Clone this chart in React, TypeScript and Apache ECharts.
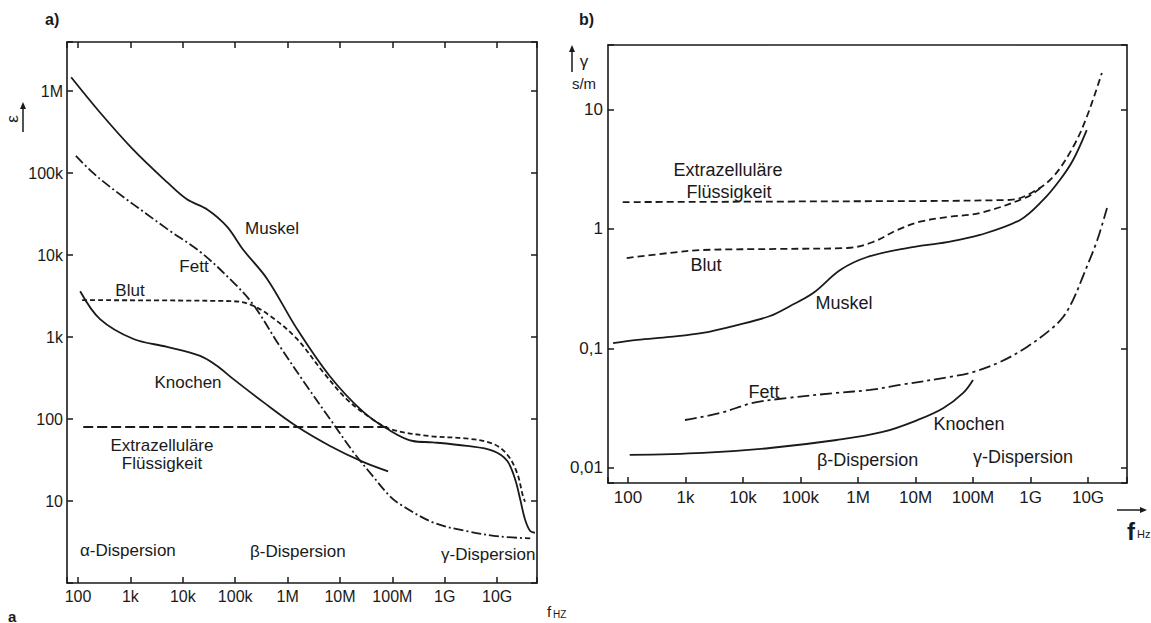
import React, { useEffect, useRef } from "react";
import * as echarts from "echarts";

// ---------- Panel a) permittivity (ε) vs frequency ----------
const aMuskelF = [74, 263, 1120, 5010, 12000, 28800, 69200, 141000, 407000, 1.51e6, 6.46e6, 2.75e7, 7.94e7, 2.45e8, 5.89e8, 2.63e9, 8.32e9, 1.55e10, 2.19e10, 2.75e10, 3.39e10, 4.27e10, 5.25e10];
const aMuskelV = [1.48e6, 5.5e5, 1.95e5, 7.76e4, 4.79e4, 3.63e4, 2.24e4, 1.17e4, 5130, 1260, 331, 123, 76, 54, 52, 47, 41, 31, 18.6, 10.5, 6.0, 4.3, 4.1];

const aBlutF = [120, 7.9e4, 1.9e5, 4.6e5, 1.5e6, 4.8e6, 1.35e7, 3.7e7, 8.9e7, 5.2e8, 2.6e9, 8.3e9, 1.55e10, 2.4e10, 3.1e10, 3.4e10];
const aBlutV = [2820, 2750, 2510, 1820, 955, 372, 174, 105, 76, 62, 58, 50, 37, 22, 11.5, 9.8];

const aFettF = [91, 263, 5010, 21400, 91200, 2.19e5, 7.08e5, 2.34e6, 6.46e6, 1.78e7, 4.27e7, 8.9e7, 1.41e8, 5.9e8, 2.6e9, 1.12e10, 4.27e10];
const aFettV = [1.62e5, 8.5e4, 2.09e4, 1.1e4, 4680, 2510, 776, 251, 100, 40, 20, 11.5, 9.1, 5.5, 4.3, 3.7, 3.5];

const aKnochenF = [110, 263, 1120, 5010, 21400, 44700, 91200, 3.39e5, 1.51e6, 6.46e6, 2.75e7, 8.3e7];
const aKnochenV = [3630, 1660, 955, 759, 589, 447, 309, 162, 81, 47, 30, 23];

const aExtraF = [126, 1e5, 8e7];
const aExtraV = [80, 80, 80];

// ---------- Panel b) conductivity (γ, S/m) vs frequency ----------
const bMuskelF = [55, 145, 537, 2000, 7940, 29500, 66100, 1.66e5, 4.9e5, 1.45e6, 7.1e6, 3.55e7, 1.32e8, 6.6e8, 1.66e9, 3.24e9, 5.5e9, 9.5e9];
const bMuskelV = [0.111, 0.118, 0.125, 0.135, 0.157, 0.187, 0.227, 0.291, 0.454, 0.583, 0.693, 0.778, 0.891, 1.19, 1.75, 2.57, 3.78, 6.73];

const bBlutF = [95, 537, 2000, 43600, 6.46e5, 1.82e6, 4.8e6, 1.2e7, 3.55e7, 1.32e8, 8.7e8, 1.48e9];
const bBlutV = [0.571, 0.631, 0.667, 0.681, 0.693, 0.778, 0.98, 1.15, 1.26, 1.36, 1.85, 2.2];

const bExtraF = [81, 1e5, 4.4e8, 1.1e9, 2.45e9, 5.5e9, 9.5e9, 1.74e10];
const bExtraV = [1.68, 1.7, 1.75, 2.04, 2.72, 4.85, 8.65, 20.2];

const bFettF = [977, 3980, 14800, 58900, 4.27e5, 1.62e6, 5.37e6, 3.98e7, 1e8, 2.95e8, 8.7e8, 2.19e9, 3.72e9, 5.6e9, 8.1e9, 1.45e10, 2.14e10];
const bFettV = [0.0252, 0.0288, 0.035, 0.0385, 0.0425, 0.045, 0.0495, 0.0578, 0.0635, 0.077, 0.103, 0.143, 0.184, 0.26, 0.398, 0.81, 1.5];

const bKnochenF = [107, 2000, 29500, 4.27e5, 2.69e6, 1.07e7, 3.02e7, 6.76e7, 1e8];
const bKnochenV = [0.01285, 0.01337, 0.01469, 0.01714, 0.02, 0.0251, 0.0316, 0.0425, 0.0545];

// ---------- tick labels (decade exponent -> text) ----------
const freqTicks: Record<number, string> = { 2: "100", 3: "1k", 4: "10k", 5: "100k", 6: "1M", 7: "10M", 8: "100M", 9: "1G", 10: "10G" };
const epsTicks: Record<number, string> = { 1: "10", 2: "100", 3: "1k", 4: "10k", 5: "100k", 6: "1M" };
const gammaTicks: Record<number, string> = { 1: "10", 0: "1", [-1]: "0,1", [-2]: "0,01" };

const INK = "#1a1a1a";
const FONT = "Liberation Sans";

const toPts = (f: number[], v: number[]) => f.map((x, i) => [Math.log10(x), Math.log10(v[i])]);
const fmt = (map: Record<number, string>) => (v: number) => {
  const r = Math.round(v);
  return Math.abs(v - r) < 1e-6 && map[r] !== undefined ? map[r] : "";
};

const line = (xi: number, yi: number, data: number[][], dash: any, width = 1.8) => ({
  type: "line",
  xAxisIndex: xi,
  yAxisIndex: yi,
  data,
  smooth: 0.35,
  showSymbol: false,
  symbol: "none",
  silent: true,
  lineStyle: { color: INK, width, type: dash },
});

const txt = (x: number, y: number, text: string, size: number, align = "center", extra: any = {}) => ({
  type: "text",
  x,
  y,
  silent: true,
  ...extra,
  style: { text, fontSize: size, fontFamily: FONT, fill: INK, align, verticalAlign: "middle", ...(extra.style || {}) },
});

const arrowUp = (x: number, y0: number, y1: number) => [
  { type: "line", silent: true, shape: { x1: x, y1: y0, x2: x, y2: y1 + 5 }, style: { stroke: INK, lineWidth: 1.5 } },
  { type: "polygon", silent: true, shape: { points: [[x - 3, y1 + 7], [x + 3, y1 + 7], [x, y1]] }, style: { fill: INK } },
];
const arrowRight = (y: number, x0: number, x1: number) => [
  { type: "line", silent: true, shape: { x1: x0, y1: y, x2: x1 - 5, y2: y }, style: { stroke: INK, lineWidth: 1.5 } },
  { type: "polygon", silent: true, shape: { points: [[x1 - 7, y - 3], [x1 - 7, y + 3], [x1, y]] }, style: { fill: INK } },
];

export default function App() {
  const ref = useRef<HTMLDivElement>(null);
  useEffect(() => {
    if (!ref.current) return;
    const chart = echarts.init(ref.current, undefined, { renderer: "svg" });
    const axLine = { show: true, onZero: false, lineStyle: { color: INK, width: 1.6 } };
    const tickIn = { show: true, inside: true, length: 6, lineStyle: { color: INK, width: 1.5 } };
    const noSplit = { show: false };
    const xA = { min: 1.79, max: 10.76 };
    const xB = { min: 1.652, max: 10.678 };
    const yA = { min: 0, max: 6.6 };
    const yB = { min: -2.126, max: 1.54 };
    const common = { type: "value", minInterval: 1, maxInterval: 1, splitLine: noSplit, axisLine: axLine };

    chart.setOption({
      animation: false,
      backgroundColor: "#fff",
      grid: [
        { left: 67, top: 42, width: 470, height: 541 },
        { left: 608, top: 45, width: 519, height: 438 },
      ],
      xAxis: [
        { ...common, ...xA, gridIndex: 0, position: "bottom", axisTick: tickIn,
          axisLabel: { formatter: fmt(freqTicks), fontSize: 16, fontFamily: FONT, color: INK, margin: 5 } },
        { ...common, ...xA, gridIndex: 0, position: "top", axisTick: tickIn, axisLabel: { show: false } },
        { ...common, ...xB, gridIndex: 1, position: "bottom", axisTick: tickIn,
          axisLabel: { formatter: fmt(freqTicks), fontSize: 17, fontFamily: FONT, color: INK, margin: 6 } },
        { ...common, ...xB, gridIndex: 1, position: "top", axisTick: { show: false }, axisLabel: { show: false } },
      ],
      yAxis: [
        { ...common, ...yA, gridIndex: 0, position: "left", axisTick: tickIn,
          axisLabel: { formatter: fmt(epsTicks), fontSize: 16, fontFamily: FONT, color: INK, margin: 4 } },
        { ...common, ...yA, gridIndex: 0, position: "right", axisTick: tickIn, axisLabel: { show: false } },
        { ...common, ...yB, gridIndex: 1, position: "left", axisTick: tickIn,
          axisLabel: { formatter: fmt(gammaTicks), fontSize: 17, fontFamily: FONT, color: INK, margin: 5 } },
        { ...common, ...yB, gridIndex: 1, position: "right", axisTick: tickIn, axisLabel: { show: false } },
      ],
      series: [
        line(0, 0, toPts(aMuskelF, aMuskelV), "solid"),
        line(0, 0, toPts(aBlutF, aBlutV), [5, 3]),
        line(0, 0, toPts(aFettF, aFettV), [10, 3, 2, 3]),
        line(0, 0, toPts(aKnochenF, aKnochenV), "solid"),
        line(0, 0, toPts(aExtraF, aExtraV), [10, 4]),
        line(2, 2, toPts(bMuskelF, bMuskelV), "solid"),
        line(2, 2, toPts(bBlutF, bBlutV), [7, 4]),
        line(2, 2, toPts(bExtraF, bExtraV), [7, 4]),
        line(2, 2, toPts(bFettF, bFettV), [12, 4, 3, 4]),
        line(2, 2, toPts(bKnochenF, bKnochenV), "solid"),
      ],
      graphic: [
        txt(45, 19, "a)", 16, "left", { style: { fontWeight: "bold" } }),
        txt(579, 19, "b)", 16, "left", { style: { fontWeight: "bold" } }),
        txt(8, 616, "a", 15, "left", { style: { fontWeight: "bold" } }),
        // panel a axis titles
        txt(12, 119, "ε", 17, "center", { rotation: Math.PI / 2 }),
        ...arrowUp(23, 132, 102),
        txt(547, 611, "f", 15, "left"),
        txt(553, 614, "HZ", 10, "left"),
        // panel a curve labels
        txt(272, 228, "Muskel", 17),
        txt(194, 266, "Fett", 17),
        txt(130, 290, "Blut", 17),
        txt(188, 382, "Knochen", 17),
        txt(162, 445, "Extrazelluläre", 17),
        txt(162, 463, "Flüssigkeit", 17),
        txt(80, 550, "α-Dispersion", 17, "left"),
        txt(250, 551, "β-Dispersion", 17, "left"),
        txt(441, 554, "γ-Dispersion", 17, "left"),
        // panel b axis titles
        ...arrowUp(572, 72, 45),
        txt(584, 61, "γ", 17),
        txt(584, 83, "s/m", 15),
        ...arrowRight(510, 1117, 1147),
        txt(1127, 531, "f", 24, "left", { style: { fontWeight: "bold" } }),
        txt(1137, 534, "Hz", 11, "left"),
        // panel b curve labels
        txt(728, 170, "Extrazelluläre", 18),
        txt(729, 192, "Flüssigkeit", 18),
        txt(706, 265, "Blut", 18),
        txt(844, 303, "Muskel", 18),
        txt(764, 392, "Fett", 18),
        txt(969, 424, "Knochen", 18),
        txt(817, 460, "β-Dispersion", 18, "left"),
        txt(973, 457, "γ-Dispersion", 18, "left"),
      ],
    });
    return () => chart.dispose();
  }, []);
  return (
    <div
      ref={ref}
      style={{ position: "absolute", left: 0, top: 0, width: 1151, height: 623, background: "#fff" }}
    />
  );
}
